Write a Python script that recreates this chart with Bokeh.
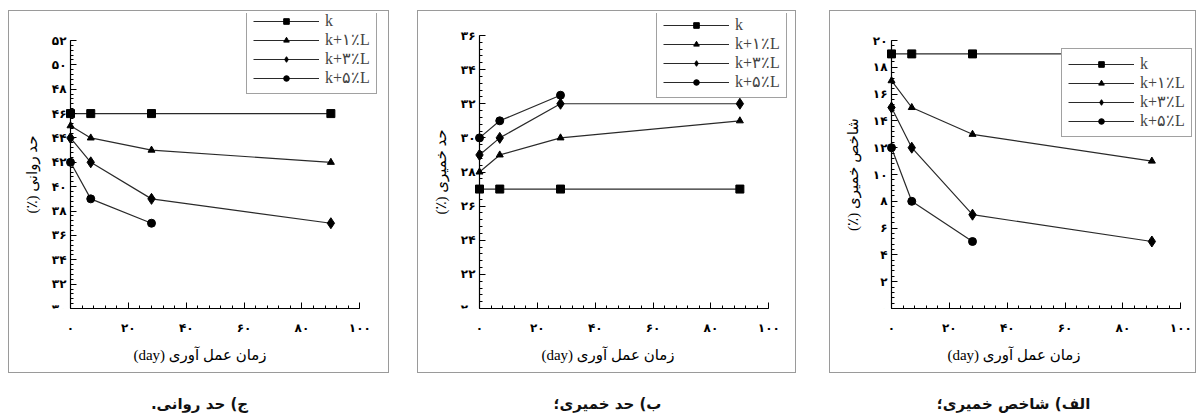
from bokeh.plotting import figure
from bokeh.models import Range1d, SingleIntervalTicker, Legend, LegendItem, Div
from bokeh.layouts import row, column
from bokeh.embed import file_html
from bokeh.resources import INLINE

# ---------------- data ----------------
days = [0, 7, 28, 90]
days_short = [0, 7, 28]
series_labels = ["k", "k+۱٪L", "k+۳٪L", "k+۵٪L"]

# liquid limit (%)
ll_k = [46, 46, 46, 46]
ll_1 = [45, 44, 43, 42]
ll_3 = [44, 42, 39, 37]
ll_5 = [42, 39, 37]

# plastic limit (%)
pl_k = [27, 27, 27, 27]
pl_1 = [28, 29, 30, 31]
pl_3 = [29, 30, 32, 32]
pl_5 = [30, 31, 32.5]

# plasticity index (%)
pi_k = [19, 19, 19, 19]
pi_1 = [17, 15, 13, 11]
pi_3 = [15, 12, 7, 5]
pi_5 = [12, 8, 5]

x_ticks = [0, 20, 40, 60, 80, 100]
x_tick_labels = ["۰", "۲۰", "۴۰", "۶۰", "۸۰", "۱۰۰"]
ll_ticks = [30, 32, 34, 36, 38, 40, 42, 44, 46, 48, 50, 52]
ll_tick_labels = ["۳۰", "۳۲", "۳۴", "۳۶", "۳۸", "۴۰", "۴۲", "۴۴", "۴۶", "۴۸", "۵۰", "۵۲"]
pl_ticks = [20, 22, 24, 26, 28, 30, 32, 34, 36]
pl_tick_labels = ["۲۰", "۲۲", "۲۴", "۲۶", "۲۸", "۳۰", "۳۲", "۳۴", "۳۶"]
pi_ticks = [0, 2, 4, 6, 8, 10, 12, 14, 16, 18, 20]
pi_tick_labels = ["۰", "۲", "۴", "۶", "۸", "۱۰", "۱۲", "۱۴", "۱۶", "۱۸", "۲۰"]

x_label = "زمان عمل آوری (day)"
ll_label = "حد روانی (٪)"
pl_label = "حد خمیری (٪)"
pi_label = "شاخص خمیری (٪)"
captions = ["ج) حد روانی.", "ب) حد خمیری؛", "الف) شاخص خمیری؛"]

RLE, PDF = "\u202b", "\u202c"
LINE_C = "#2a2a2a"
SERIF = "Liberation Serif, DejaVu Sans"

HEIGHT = 363
X_AXIS_FIG = 297     # pixel row of the x axis inside the figure
Y_AXIS_FIG = 61      # pixel column of the y axis inside the figure
PX_PER_DAY = 2.893


def make_panel(width, axis_top, yr, yticks, ylabels, ylabel, series, legend_loc):
    # the frame covers (almost) the whole box so nothing gets clipped;
    # axes are limited with bounds to reproduce the original extents
    x_min = -(Y_AXIS_FIG - 2) / PX_PER_DAY
    x_max = (width - 2 - Y_AXIS_FIG) / PX_PER_DAY
    ppu = (X_AXIS_FIG - axis_top) / (yr[1] - yr[0])
    y_max = yr[1] + (axis_top - 2) / ppu

    p = figure(width=width, height=HEIGHT, output_backend="svg",
               toolbar_location=None,
               x_range=Range1d(x_min, x_max), y_range=Range1d(yr[0], y_max),
               min_border_left=2, min_border_right=2, min_border_top=2,
               min_border_bottom=HEIGHT - X_AXIS_FIG,
               background_fill_color="white", border_fill_color="white",
               styles={"border": "1px solid #9a9a9a"})
    p.outline_line_color = None
    p.grid.visible = False

    xa = p.xaxis[0]
    xa.ticker = SingleIntervalTicker(interval=20, num_minor_ticks=5)
    xa.bounds = (0, 100)
    xa.major_label_overrides = dict(zip(x_ticks, x_tick_labels))
    xa.major_label_standoff = 12
    xa.axis_label = RLE + x_label + PDF
    xa.axis_label_standoff = 9

    ya = p.yaxis[0]
    ya.ticker = SingleIntervalTicker(interval=2, num_minor_ticks=5)
    ya.bounds = (yr[0], yr[1])
    ya.fixed_location = 0
    ya.major_label_overrides = dict(zip(yticks, ylabels))
    ya.major_label_standoff = 4
    ya.axis_label = RLE + ylabel + PDF
    ya.axis_label_standoff = 9

    for ax in (xa, ya):
        ax.axis_line_color = "black"
        ax.axis_line_width = 1.2
        ax.major_tick_in = 6
        ax.major_tick_out = 0
        ax.minor_tick_in = 3
        ax.minor_tick_out = 0
        ax.major_tick_line_color = "black"
        ax.minor_tick_line_color = "black"
        ax.major_label_text_font = "DejaVu Sans"
        ax.major_label_text_font_size = "12px"
        ax.major_label_text_font_style = "bold"
        ax.major_label_text_color = "black"
        ax.axis_label_text_font = SERIF
        ax.axis_label_text_font_size = "15px"
        ax.axis_label_text_font_style = "normal"
        ax.axis_label_text_color = "black"

    markers = [("square", 8), ("triangle", 7), ("diamond", 11), ("circle", 8)]
    items = []
    for (xs, ys), (mk, sz), lab in zip(series, markers, series_labels):
        lr = p.line(xs, ys, line_color=LINE_C, line_width=1.2)
        sr = p.scatter(xs, ys, marker=mk, size=sz, fill_color="black",
                       line_color="black")
        items.append(LegendItem(label=lab, renderers=[lr, sr]))

    leg = Legend(items=items, location=legend_loc,
                 glyph_width=66, glyph_height=14, label_height=14,
                 spacing=0, padding=6, margin=0, label_standoff=6,
                 label_text_font="Liberation Serif",
                 label_text_font_size="16px",
                 label_text_line_height=1.0,
                 border_line_color="#444", border_line_width=1.2,
                 background_fill_color="white", background_fill_alpha=1)
    p.add_layout(leg)
    return p


def caption(text, width):
    return Div(text='<div dir="rtl" style="width:%dpx;text-align:center;'
                    'font-weight:bold;font-size:15px;line-height:16px;'
                    'font-family:DejaVu Sans;color:#111;">%s</div>' % (width, text),
               width=width, height=16, margin=0)


p1 = make_panel(381, 29, (30, 52), ll_ticks, ll_tick_labels, ll_label,
                [(days, ll_k), (days, ll_1), (days, ll_3), (days_short, ll_5)],
                (235, 214))
p2 = make_panel(379, 24, (20, 36), pl_ticks, pl_tick_labels, pl_label,
                [(days, pl_k), (days, pl_1), (days, pl_3), (days_short, pl_5)],
                (236, 210))
p3 = make_panel(367, 29, (0, 20), pi_ticks, pi_tick_labels, pi_label,
                [(days, pi_k), (days, pi_1), (days, pi_3), (days_short, pi_5)],
                (229, 171))

c1 = column(p1, caption(captions[0], 383), spacing=23)
c2 = column(p2, caption(captions[1], 381), spacing=23, margin=(0, 0, 0, 26))
c3 = column(p3, caption(captions[2], 369), spacing=23, margin=(0, 0, 0, 31))
layout = row(c1, c2, c3, spacing=0, margin=(10, 0, 0, 8))

open("out.html", "w").write(file_html(layout, INLINE))
